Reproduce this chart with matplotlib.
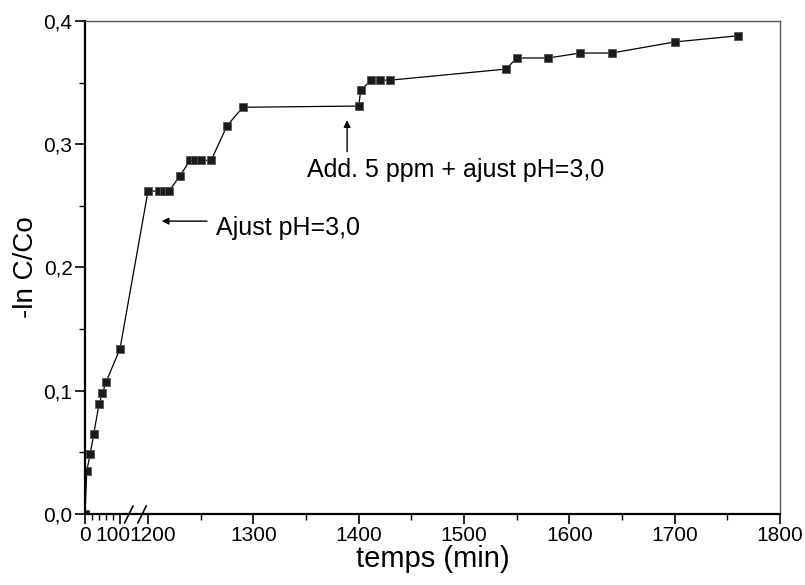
import numpy as np
import matplotlib
matplotlib.use('Agg')
from matplotlib import pyplot as plt
from matplotlib.ticker import FixedLocator, FuncFormatter
from matplotlib.transforms import ScaledTranslation

plt.rcParams['font.family'] = ['Liberation Sans', 'DejaVu Sans']

# temps (min) et -ln C/Co
temps = [0, 5, 15, 25, 40, 50, 60, 100,
         1200, 1210, 1215, 1220, 1230, 1240, 1245, 1250, 1260, 1275, 1290,
         1400, 1402, 1412, 1420, 1430, 1540, 1550, 1580, 1610, 1640, 1700, 1760]
ln_c = [0.0, 0.035, 0.049, 0.065, 0.089, 0.098, 0.107, 0.134,
        0.262, 0.262, 0.262, 0.262, 0.274, 0.287, 0.287, 0.287, 0.287, 0.315, 0.330,
        0.331, 0.344, 0.352, 0.352, 0.352, 0.361, 0.370, 0.370, 0.374, 0.374, 0.383, 0.388]

major_x = [0, 100, 1200, 1300, 1400, 1500, 1600, 1700, 1800]
minor_x = [20, 40, 60, 80, 1250, 1350, 1450, 1550, 1650, 1750]

# axe x coupe : 0-110 comprime, puis 1200-1800
A, T1, T2, U2 = 0.332, 110.0, 1200.0, 59.8
K = (U2 - T1 * A) / (T2 - T1)


def fwd(t):
    t = np.asarray(t, dtype=float)
    return np.where(t <= T1, t * A,
                    np.where(t >= T2, t - T2 + U2, T1 * A + (t - T1) * K))


def inv(u):
    u = np.asarray(u, dtype=float)
    return np.where(u <= T1 * A, u / A,
                    np.where(u >= U2, u - U2 + T2, T1 + (u - T1 * A) / K))


fig = plt.figure(figsize=(8.05, 5.85), dpi=100)
ax = fig.add_axes([0.1056, 0.1214, 0.8634, 0.8427])
ax.set_xscale('function', functions=(fwd, inv))

ax.plot(temps, ln_c, color='black', lw=0.9, marker='s', ms=5.8,
        mfc='#1a1a1a', mec='#555555', mew=0.6)

ax.set_xlim(0, 1800)
ax.set_ylim(0, 0.4)
ax.xaxis.set_major_locator(FixedLocator(major_x))
ax.xaxis.set_minor_locator(FixedLocator(minor_x))
ax.xaxis.set_major_formatter(FuncFormatter(lambda v, p: '%d' % v))
ax.set_yticks([0, 0.1, 0.2, 0.3, 0.4])
ax.set_yticks([0.05, 0.15, 0.25, 0.35], minor=True)
ax.yaxis.set_major_formatter(FuncFormatter(lambda v, p: ('%.1f' % v).replace('.', ',')))

ax.tick_params(which='major', direction='out', length=7, width=1.2, labelsize=15, pad=2)
ax.tick_params(which='minor', direction='out', length=4, width=1.0)
ax.tick_params(top=False, right=False)

# "100" et "1200" se touchent presque : on les ecarte un peu
fig.canvas.draw()
labs = ax.get_xticklabels()
labs[1].set_transform(labs[1].get_transform() + ScaledTranslation(-7 / 100, 0, fig.dpi_scale_trans))
labs[2].set_transform(labs[2].get_transform() + ScaledTranslation(5 / 100, 0, fig.dpi_scale_trans))

for side in ['left', 'bottom']:
    ax.spines[side].set_linewidth(1.6)
for side in ['top', 'right']:
    ax.spines[side].set_linewidth(1.0)
    ax.spines[side].set_color('0.35')

ax.set_xlabel('temps (min)', fontsize=21, labelpad=0)
ax.set_ylabel('-ln C/Co', fontsize=20, labelpad=3)

# marque de coupure //
for x0 in [0.0570, 0.0760]:
    ax.plot([x0, x0 + 0.012], [-0.018, 0.016], color='black', lw=1.2,
            transform=ax.transAxes, clip_on=False)

ax.annotate('', xy=(1213, 0.2376), xytext=(1256, 0.2376),
            arrowprops=dict(arrowstyle='-|>', color='black', lw=1.0,
                            mutation_scale=10, shrinkA=0, shrinkB=0))
ax.text(1265, 0.232, 'Ajust pH=3,0', fontsize=18, va='center', ha='left')

ax.annotate('', xy=(1389, 0.3195), xytext=(1389, 0.294),
            arrowprops=dict(arrowstyle='-|>', color='black', lw=1.0,
                            mutation_scale=10, shrinkA=0, shrinkB=0))
ax.text(1351, 0.279, 'Add. 5 ppm + ajust pH=3,0', fontsize=18, va='center', ha='left')

fig.savefig('out.png', dpi=100)
